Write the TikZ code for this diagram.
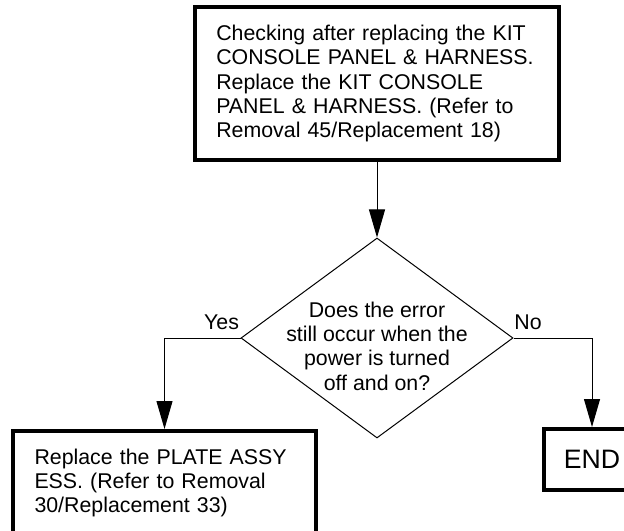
\documentclass[tikz,border=0pt]{standalone}
\usepackage{fontspec}
\setmainfont{Liberation Sans}
\usetikzlibrary{arrows.meta, shapes.geometric}

\begin{document}
\begin{tikzpicture}[
          x=0.75pt, y=-0.75pt,
          font=\fontsize{16}{18.2}\selectfont,
          procbox/.style={draw, line width=3pt, align=left, inner xsep=16pt, inner ysep=2pt, anchor=center,
              execute at begin node={\hyphenpenalty=10000}},
          decision/.style={diamond, draw, line width=0.75pt, inner sep=0pt,
              minimum width=204pt, minimum height=150pt},
          % Connectors and their labels
          conn/.style={line width=0.75pt, -{Triangle[length=21pt, width=12pt]}},
          lbl/.style={inner sep=0pt}
        ]

        \clip (0,0) rectangle (624,531);

        % -------- Check step --------
        \node[procbox, text width=241pt, minimum width=273pt, minimum height=114.75pt] (check) at (377,83.5)
          {Checking after replacing the KIT\\ CONSOLE PANEL \& HARNESS.\\ Replace the KIT CONSOLE\\ PANEL \& HARNESS. (Refer to\\ Removal 45/Replacement 18)};

        % -------- Decision --------
        \node[decision] (decide) at (377,338) {};
        \node[align=center, inner sep=0pt] (ask) at (377,346)
          {Does the error\\ still occur when the\\ power is turned\\ off and on?};

        % -------- Outcomes --------
        \node[procbox, text width=195pt, minimum width=227.25pt, minimum height=78pt] (replace) at (164.5,483)
          {Replace the PLATE ASSY\\ ESS. (Refer to Removal\\ 30/Replacement 33)};
        \node[procbox, align=center, inner xsep=0pt, minimum width=72pt, minimum height=45.75pt,
          font=\fontsize{20}{24}\selectfont] (finish) at (592,459.5) {END};

        % -------- Arrows --------
        \draw[conn] (check) -- (decide);
        \draw[conn] (decide.west) -| (replace.north);
        \draw[conn] (decide.east) -| (finish.north);

        \node[lbl] (yes) at (221.5,322) {Yes};
        \node[lbl] (no) at (528,322) {No};

      \end{tikzpicture}
\end{document}
